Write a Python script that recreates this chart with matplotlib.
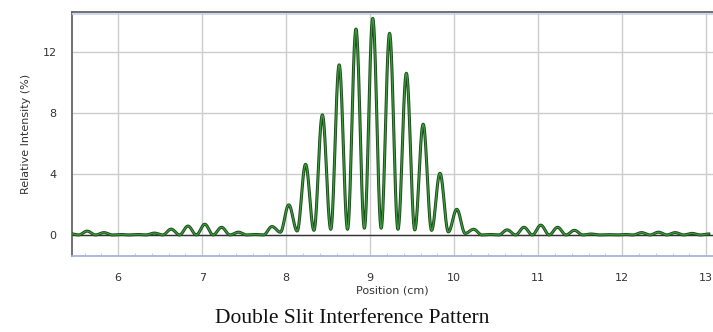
import numpy as np
import matplotlib.pyplot as plt
from matplotlib.ticker import MultipleLocator

# fringe peaks (position in cm, intensity in %)
peak_pos = [5.43, 5.63, 5.83, 6.03, 6.23, 6.43, 6.63, 6.83, 7.03, 7.23,
            7.43, 7.63, 7.83, 8.03, 8.23, 8.43, 8.63, 8.83, 9.03, 9.23,
            9.43, 9.63, 9.83, 10.03, 10.23, 10.43, 10.63, 10.83, 11.03, 11.23,
            11.43, 11.63, 11.83, 12.03, 12.23, 12.43, 12.63, 12.83, 13.03]
peak_val = [0.08, 0.25, 0.15, 0.03, 0.03, 0.12, 0.38, 0.58, 0.70, 0.50,
            0.18, 0.03, 0.55, 1.97, 4.63, 7.87, 11.15, 13.50, 14.20, 13.22,
            10.60, 7.26, 4.04, 1.68, 0.37, 0.03, 0.33, 0.50, 0.64, 0.50,
            0.30, 0.06, 0.02, 0.03, 0.15, 0.18, 0.15, 0.10, 0.06]
# dark fringes between the peaks
trough_val = [0.0, 0.0, 0.0, 0.0, 0.0, 0.0, 0.0, 0.0, 0.0,
              0.0, 0.0, 0.0, 0.18, 0.26, 0.30, 0.37, 0.37, 0.44, 0.44,
              0.37, 0.33, 0.30, 0.20, 0.10, 0.0, 0.0, 0.0, 0.0, 0.0,
              0.0, 0.0, 0.0, 0.0, 0.0, 0.0, 0.0, 0.0, 0.0]

# alternate peaks and troughs, join them with smooth half-cosine arcs
ex_x, ex_y = [], []
for i in range(len(peak_pos)):
    ex_x.append(peak_pos[i])
    ex_y.append(peak_val[i])
    if i < len(trough_val):
        ex_x.append((peak_pos[i] + peak_pos[i + 1]) / 2)
        ex_y.append(trough_val[i])

xs, ys = [], []
for j in range(len(ex_x) - 1):
    t = np.linspace(0, 1, 30, endpoint=False)
    xs.append(ex_x[j] + (ex_x[j + 1] - ex_x[j]) * t)
    ys.append(ex_y[j] + (ex_y[j + 1] - ex_y[j]) * (1 - np.cos(np.pi * t)) / 2)
xs = np.concatenate(xs + [[ex_x[-1]]])
ys = np.concatenate(ys + [[ex_y[-1]]])

fig = plt.figure(figsize=(7.13, 3.32), dpi=100)
ax = fig.add_axes([0.101, 0.229, 0.899, 0.735])

ax.grid(True, color='#cccccc', linewidth=1)
ax.set_axisbelow(True)
ax.axhline(0, color='#333333', linewidth=1, zorder=2)
ax.plot(xs, ys, color='#1c4a1c', linewidth=2.2, zorder=3)
ax.plot(xs, ys, color='#3c9a3c', linewidth=0.9, zorder=4)

# light blue inner edge under the top frame
ax.plot([0, 1], [0.992, 0.992], transform=ax.transAxes, color='#c8d0ec',
        linewidth=1.2, zorder=5)

ax.set_xlim(5.45, 13.08)
ax.set_ylim(-1.38, 14.62)
ax.set_xticks([6, 7, 8, 9, 10, 11, 12, 13])
ax.set_yticks([0, 4, 8, 12])
ax.xaxis.set_minor_locator(MultipleLocator(0.2))
ax.tick_params(axis='both', which='major', length=0, labelsize=8, colors='#333333')
ax.tick_params(axis='x', which='major', pad=12)
ax.tick_params(axis='y', which='major', pad=11)
ax.tick_params(axis='x', which='minor', direction='in', length=2, color='#bbbbbb')

for side in ['top', 'bottom', 'left']:
    ax.spines[side].set_color('#666666')
    ax.spines[side].set_linewidth(1.3)
ax.spines['right'].set_visible(False)
ax.spines['bottom'].set_color('#a8b4d8')

ax.set_xlabel('Position (cm)', fontsize=8, color='#333333', labelpad=2)
ax.set_ylabel('Relative Intensity (%)', fontsize=8, color='#333333', labelpad=8)

fig.text(0.494, 0.042, 'Double Slit Interference Pattern', family='Liberation Serif',
         fontsize=15.5, ha='center', va='center', color='#111111')

fig.savefig('out.png', dpi=100)
